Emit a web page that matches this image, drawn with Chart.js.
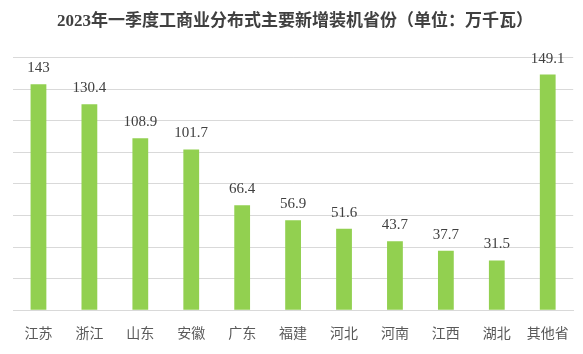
<!DOCTYPE html>
<html>
<head>
<meta charset="utf-8">
<script src="https://cdn.jsdelivr.net/npm/chart.js@4"></script>
<style>
    html, body { margin: 0; padding: 0; background: #fff; }
    #wrap { width: 583px; height: 354px; }
</style>
</head>
<body>
<div id="wrap"><canvas id="myChart"></canvas></div>
<script>
const provinces = ['江苏', '浙江', '山东', '安徽', '广东', '福建', '河北', '河南', '江西', '湖北', '其他省']
const capacity = [143, 130.4, 108.9, 101.7, 66.4, 56.9, 51.6, 43.7, 37.7, 31.5, 149.1]
const yMax = 160
const yStep = 20

// draws the value above every bar
const valueLabels = {
    id: 'valueLabels',
    afterDatasetsDraw(chart) {
        const ctx = chart.ctx
        const meta = chart.getDatasetMeta(0)
        ctx.save()
        ctx.font = '15px "Liberation Serif", "Times New Roman", serif'
        ctx.fillStyle = '#404040'
        ctx.textAlign = 'center'
        ctx.textBaseline = 'middle'
        meta.data.forEach((bar, i) => {
            ctx.fillText(String(capacity[i]), bar.x, bar.y - 16)
        })
        ctx.restore()
    }
}

const ctx = document.getElementById('myChart')

new Chart(ctx, {
    type: 'bar',
    data: {
        labels: provinces,
        datasets: [{
            data: capacity,
            backgroundColor: '#92D050',
            barPercentage: 0.31,
            categoryPercentage: 1
        }]
    },
    options: {
        responsive: true,
        maintainAspectRatio: false,
        animation: false,
        layout: {
            padding: { left: 13, right: 6, top: 0, bottom: -1 }
        },
        plugins: {
            legend: { display: false },
            tooltip: { enabled: false },
            title: {
                display: true,
                text: '2023年一季度工商业分布式主要新增装机省份（单位：万千瓦）',
                color: '#404040',
                font: { family: '"Liberation Serif", "Noto Sans CJK SC", sans-serif', size: 17, weight: 'bold' },
                padding: { top: 11, bottom: 26 }
            }
        },
        scales: {
            x: {
                grid: { display: false, drawTicks: false },
                border: { display: true, color: '#d9d9d9' },
                ticks: {
                    color: '#595959',
                    font: { family: '"Noto Sans CJK SC", sans-serif', size: 14 },
                    padding: 14
                }
            },
            y: {
                min: 0,
                max: yMax,
                grid: { color: '#d9d9d9', drawTicks: false },
                border: { display: false },
                ticks: { display: false, stepSize: yStep }
            }
        }
    },
    plugins: [valueLabels]
})
</script>
</body>
</html>
